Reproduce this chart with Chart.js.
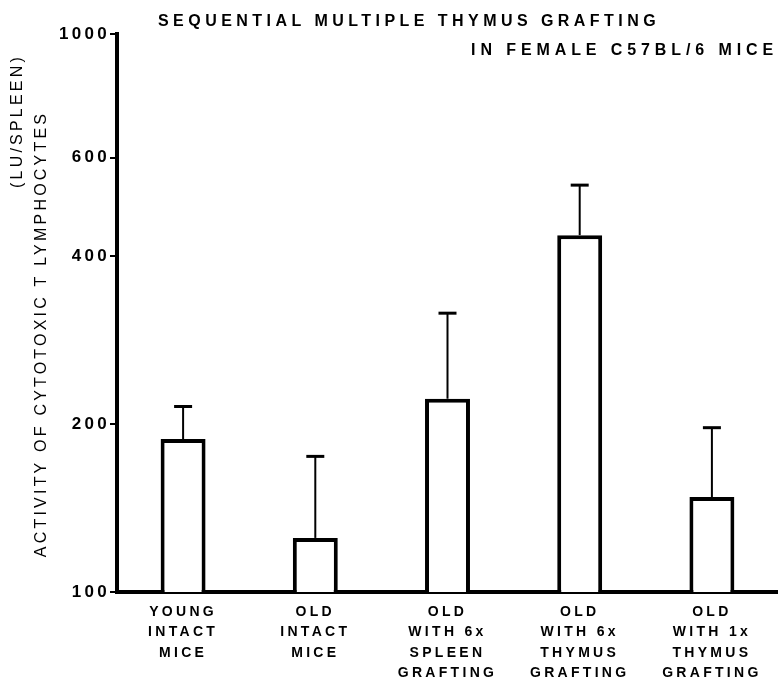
<!DOCTYPE html>
<html>
<head>
<meta charset="utf-8">
<script src="https://cdn.jsdelivr.net/npm/chart.js@4"></script>
<style>
    html, body { margin: 0; padding: 0; background: #fff; }
    #wrap { width: 778px; height: 680px; }
</style>
</head>
<body>
<div id="wrap"><canvas id="thymusChart" width="778" height="680"></canvas></div>
<script>
const groups = [
    ['YOUNG', 'INTACT', 'MICE'],
    ['OLD', 'INTACT', 'MICE'],
    ['OLD', 'WITH 6x', 'SPLEEN', 'GRAFTING'],
    ['OLD', 'WITH 6x', 'THYMUS', 'GRAFTING'],
    ['OLD', 'WITH 1x', 'THYMUS', 'GRAFTING']
];
const activity = [188, 125, 222, 436, 148];
const activityUpper = [215, 175, 316, 536, 197];
const yTicks = [100, 200, 400, 600, 1000];

const titleLines = ['SEQUENTIAL MULTIPLE THYMUS GRAFTING', 'IN FEMALE C57BL/6 MICE'];
const yTitleLines = ['ACTIVITY OF CYTOTOXIC T LYMPHOCYTES', '(LU/SPLEEN)'];

const fontFamily = '"Liberation Sans", Arial, sans-serif';

// spacing letters like the old typeset figure
const letterSpacingPlugin = {
    id: 'letterSpacing',
    beforeDraw(chart) {
        chart.ctx.letterSpacing = '3.3px';
    }
};

// error bars: line up from the top of each bar with a small cap
const errorBars = {
    id: 'errorBars',
    afterDatasetsDraw(chart) {
        const ctx = chart.ctx;
        const meta = chart.getDatasetMeta(0);
        const y = chart.scales.y;
        ctx.save();
        ctx.strokeStyle = '#000';
        meta.data.forEach((bar, i) => {
            const top = y.getPixelForValue(activityUpper[i]);
            const base = y.getPixelForValue(activity[i]);
            ctx.lineWidth = 2;
            ctx.beginPath();
            ctx.moveTo(bar.x, base);
            ctx.lineTo(bar.x, top);
            ctx.stroke();
            ctx.lineWidth = 3;
            ctx.beginPath();
            ctx.moveTo(bar.x - 9, top);
            ctx.lineTo(bar.x + 9, top);
            ctx.stroke();
        });
        ctx.restore();
    }
};

// header and the two-line y title are not centered like chart.js would do it
const headerText = {
    id: 'headerText',
    afterDraw(chart) {
        const ctx = chart.ctx;
        ctx.save();
        ctx.fillStyle = '#000';
        ctx.letterSpacing = '4.45px';
        ctx.font = 'bold 16px ' + fontFamily;
        ctx.textBaseline = 'middle';
        ctx.textAlign = 'left';
        ctx.fillText(titleLines[0], 158, 22);
        ctx.letterSpacing = '4.9px';
        ctx.textAlign = 'right';
        ctx.fillText(titleLines[1], 778, 51);

        ctx.letterSpacing = '3.2px';
        ctx.font = '16px ' + fontFamily;
        ctx.textAlign = 'center';
        ctx.translate(42, 334);
        ctx.rotate(-Math.PI / 2);
        ctx.fillText(yTitleLines[0], 0, 0);
        ctx.restore();

        ctx.save();
        ctx.fillStyle = '#000';
        ctx.letterSpacing = '3.2px';
        ctx.font = '16px ' + fontFamily;
        ctx.textBaseline = 'middle';
        ctx.textAlign = 'center';
        ctx.translate(18, 121);
        ctx.rotate(-Math.PI / 2);
        ctx.fillText(yTitleLines[1], 0, 0);
        ctx.restore();
    }
};

new Chart(document.getElementById('thymusChart'), {
    type: 'bar',
    data: {
        labels: groups,
        datasets: [{
            data: activity,
            backgroundColor: '#fff',
            borderColor: '#000',
            borderWidth: 4,
            borderSkipped: 'bottom',
            barPercentage: 0.34,
            categoryPercentage: 1
        }]
    },
    options: {
        responsive: false,
        animation: false,
        layout: { padding: { top: 34, left: 0, right: 0, bottom: 0 } },
        plugins: {
            legend: { display: false },
            tooltip: { enabled: false },
            title: { display: false }
        },
        scales: {
            x: {
                type: 'category',
                offset: true,
                grid: { display: false, drawTicks: false },
                border: { display: true, color: '#000', width: 4 },
                ticks: {
                    color: '#000',
                    padding: 10,
                    maxRotation: 0,
                    autoSkip: false,
                    font: { family: fontFamily, size: 14, weight: 'bold', lineHeight: 1.45 }
                },
                afterFit(scale) { scale.height = 88; }
            },
            y: {
                type: 'logarithmic',
                min: 100,
                max: 1000,
                afterBuildTicks(scale) {
                    scale.ticks = yTicks.map(v => ({ value: v }));
                },
                grid: {
                    drawOnChartArea: false,
                    drawTicks: true,
                    tickLength: 7,
                    color: '#000',
                    lineWidth: 2
                },
                border: { display: true, color: '#000', width: 4 },
                ticks: {
                    color: '#000',
                    padding: 0,
                    font: { family: fontFamily, size: 17, weight: 'bold' },
                    callback: v => String(v)
                },
                afterFit(scale) { scale.width = 117; }
            }
        }
    },
    plugins: [letterSpacingPlugin, errorBars, headerText]
});
</script>
</body>
</html>
